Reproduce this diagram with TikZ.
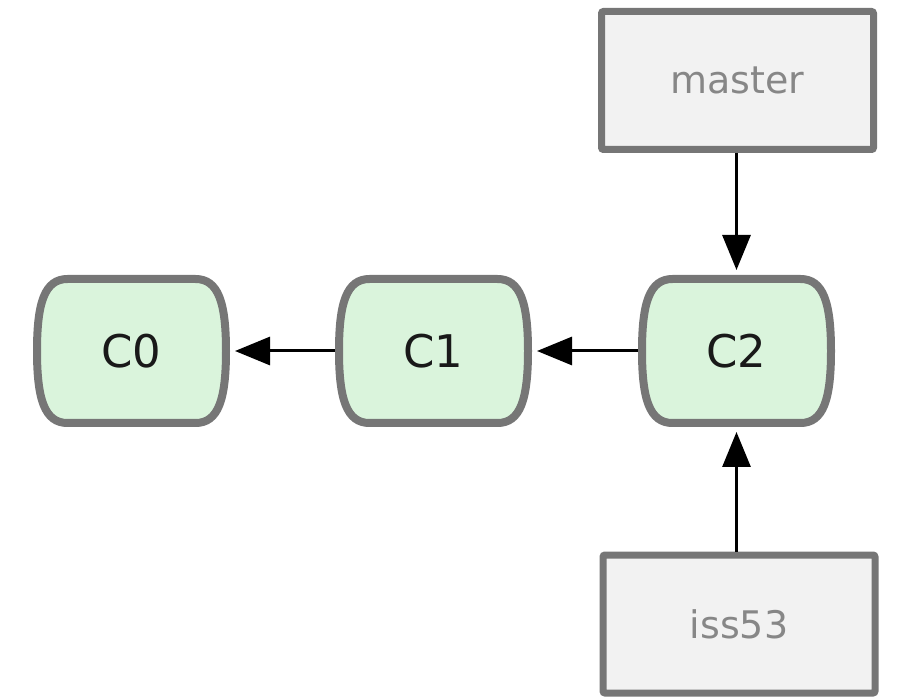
\documentclass[tikz,border=0pt]{standalone}
\usepackage{fontspec}
\setmainfont{DejaVu Sans}
\usetikzlibrary{arrows.meta}
\definecolor{commitfill}{RGB}{218,244,220}
\definecolor{edgegray}{RGB}{118,118,118}
\definecolor{branchfill}{RGB}{242,242,242}
\definecolor{branchtext}{RGB}{135,135,135}
\begin{document}
\begin{tikzpicture}[x=1pt,y=-1pt,
 commitline/.style={draw=edgegray, line width=8pt, fill=commitfill},
 pics/commitbody/.style={code={\path[commitline]
     (-64,-72) -- (64,-72) .. controls (87,-72) and (94.5,-48) .. (94.5,0)
     .. controls (94.5,48) and (87,72) .. (64,72) -- (-64,72)
     .. controls (-87,72) and (-94.5,48) .. (-94.5,0)
     .. controls (-94.5,-48) and (-87,-72) .. (-64,-72) -- cycle;}},
 commit/.style={rectangle, minimum width=197pt, minimum height=152pt, inner sep=0pt, outer sep=0pt,
   font=\fontsize{45}{54}\selectfont, text=black!90},
 branch/.style={rectangle, draw=edgegray, line width=7pt, fill=branchfill, minimum width=272pt, minimum height=138pt, inner sep=0pt, font=\fontsize{38}{46}\selectfont, text=branchtext, rounded corners=2pt},
 ptr/.style={line width=3pt, draw=black, -{Triangle[length=35pt,width=28pt]}, shorten >=5pt}]
\useasboundingbox (0,0) rectangle (900,700);
\pic at (131.5,351) {commitbody};
\pic at (433.5,351) {commitbody};
\pic at (736.5,351) {commitbody};
\node[commit] (c0) at (131.5,351) {C0};
\node[commit] (c1) at (433.5,351) {C1};
\node[commit] (c2) at (736.5,351) {C2};
\node[branch] (master) at (737.5,80.5) {master};
\node[branch] (iss) at (739,624) {iss53};
\draw[ptr] (c1) -- (c0);
\draw[ptr] (c2) -- (c1);
\draw[ptr] (master.south -| c2) -- (c2);
\draw[ptr] (iss.north -| c2) -- (c2);
\end{tikzpicture}
\end{document}
